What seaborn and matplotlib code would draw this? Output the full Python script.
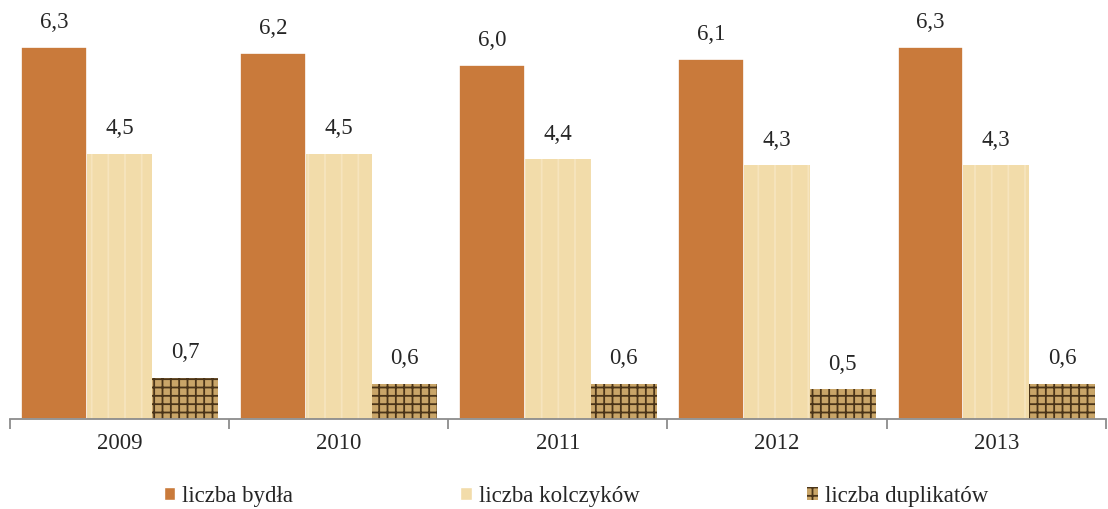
import pandas as pd
import numpy as np
import matplotlib
matplotlib.use("Agg")
import matplotlib.pyplot as plt
import seaborn as sns
from matplotlib.patches import Patch

# dane (mln)
lata = ["2009", "2010", "2011", "2012", "2013"]
bydlo = [6.3, 6.2, 6.0, 6.1, 6.3]
kolczyki = [4.5, 4.5, 4.4, 4.3, 4.3]
duplikaty = [0.7, 0.6, 0.6, 0.5, 0.6]
serie = ["liczba bydła", "liczba kolczyków", "liczba duplikatów"]

df = pd.DataFrame({
    "rok": lata * 3,
    "wartosc": bydlo + kolczyki + duplikaty,
    "seria": [serie[0]] * 5 + [serie[1]] * 5 + [serie[2]] * 5,
})

sns.set_style("white")
plt.rcParams["font.family"] = ["Liberation Serif", "DejaVu Serif"]
plt.rcParams["hatch.linewidth"] = 1.3

kolory = ["#c97a3b", "#f2dcaa", "#c9a568"]
ciemny = "#4a3418"

fig = plt.figure(figsize=(11.08, 5.1), dpi=100)
ax = fig.add_axes([0.009, 0.1765, 0.989, 0.8235])

sns.barplot(data=df, x="rok", y="wartosc", hue="seria", palette=kolory,
            saturation=1, width=0.9, edgecolor="white", linewidth=1.2,
            ax=ax, legend=False)

# tekstura dla kolczyków i duplikatów
for bar in ax.containers[1]:
    bar.set_hatch("|")
    bar.set_edgecolor("#f6e4bd")
    bar.set_linewidth(0)
for bar in ax.containers[2]:
    bar.set_hatch("++")
    bar.set_edgecolor(ciemny)
    bar.set_linewidth(0)

for cont, vals in zip(ax.containers, [bydlo, kolczyki, duplikaty]):
    ax.bar_label(cont, labels=[f"{v:.1f}".replace(".", ",") for v in vals],
                 padding=11, fontsize=16.5)

ax.set_ylim(0, 7.12)
ax.set_xlim(-0.5, 4.5)
ax.set_xlabel("")
ax.set_ylabel("")
ax.set_yticks([])
ax.set_xticks(np.arange(-0.5, 5, 1), minor=True)
ax.tick_params(axis="x", which="major", bottom=False, labelsize=16.5, pad=6)
ax.tick_params(axis="x", which="minor", bottom=True, length=7,
               color="#8c8c8c", width=1.3)
for s in ["top", "right", "left"]:
    ax.spines[s].set_visible(False)
ax.spines["bottom"].set_color("#8c8c8c")
ax.spines["bottom"].set_linewidth(1.3)

uchwyty = [Patch(facecolor=kolory[0]),
           Patch(facecolor=kolory[1]),
           Patch(facecolor=kolory[2], hatch="++", edgecolor=ciemny, linewidth=0)]
fig.legend(uchwyty, serie, loc="lower center", bbox_to_anchor=(0.52, -0.035),
           ncol=3, frameon=False, fontsize=16.5, handlelength=0.5,
           handleheight=0.5, handletextpad=0.3, columnspacing=7.3)

fig.savefig("out.png", dpi=100)
